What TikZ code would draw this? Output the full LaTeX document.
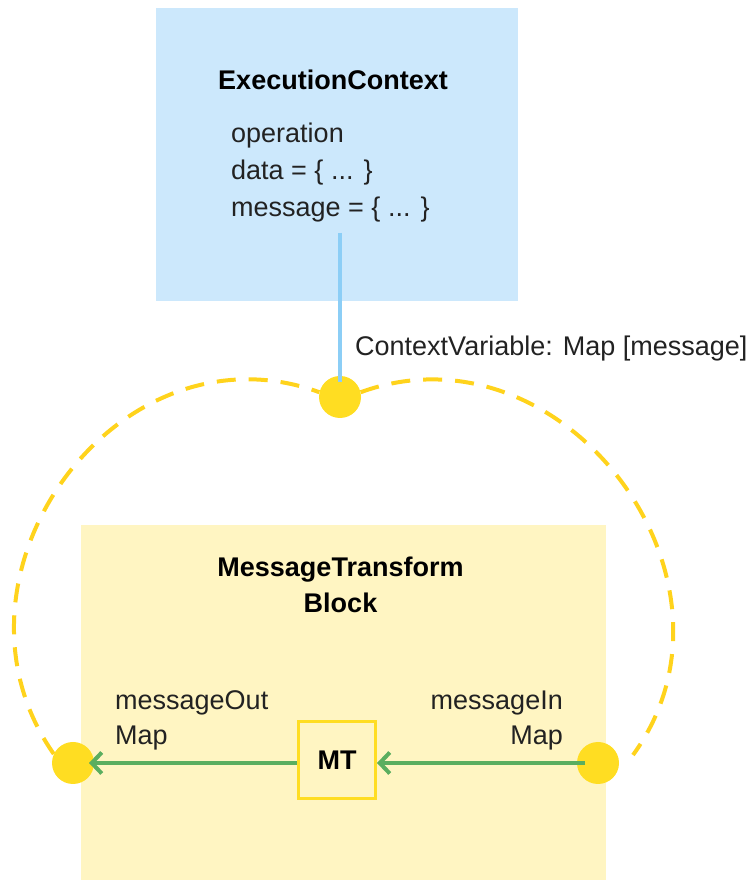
\documentclass[tikz,border=0pt]{standalone}
\usepackage{fontspec}
\setmainfont{Liberation Sans}
\usetikzlibrary{arrows.meta}
\definecolor{ecfill}{HTML}{CCE8FC}
\definecolor{blueln}{HTML}{8CCEF6}
\definecolor{blkfill}{HTML}{FFF5C2}
\definecolor{gold}{HTML}{FFDD22}
\definecolor{dashgold}{HTML}{FFD31C}
\definecolor{grn}{HTML}{5AAE5F}
\definecolor{txtc}{HTML}{222222}
\pgfdeclarelayer{bg}
\pgfsetlayers{bg,main}
\begin{document}
\begin{tikzpicture}[x=1pt,y=1pt,
  lbl/.style={font=\fontsize{27}{36}\selectfont, text=txtc, inner sep=0pt},
  ttl/.style={lbl, font=\fontsize{27}{36}\selectfont\bfseries, text=black},
  panel/.style={inner sep=0pt, anchor=north west},
  dot/.style={circle, fill=gold, minimum size=42pt, inner sep=0pt},
  loopline/.style={draw=dashgold, line width=4pt, dash pattern=on 19pt off 13pt},
  flow/.style={draw=grn, line width=4pt, -{Straight Barb[length=10pt,width=21pt]}},
  link/.style={draw=blueln, line width=3.5pt}]
\useasboundingbox (0,0) rectangle (750,882);
% panels
\node[panel, fill=ecfill, minimum width=362pt, minimum height=293pt] (ec) at (156,874) {};
\node[panel, fill=blkfill, minimum width=525pt, minimum height=355pt] (blk) at (81,357) {};
% texts
\node[ttl, anchor=base] (ectitle) at (333,792) {ExecutionContext};
\node[lbl, anchor=base west] (op) at (231,739) {operation};
\node[lbl, anchor=base west] (dat) at (231,702) {data = \{ ... \}};
\node[lbl, anchor=base west] (msg) at (231,665) {message = \{ ... \}};
\node[lbl, anchor=base west] (cvlabel) at (355,526) {ContextVariable: Map [message]};
\node[ttl, anchor=base] (blktitle1) at (340.5,305) {MessageTransform};
\node[ttl, anchor=base] (blktitle2) at (340.5,269) {Block};
\node[lbl, anchor=base west] (outname) at (115,172) {messageOut};
\node[lbl, anchor=base west] (outtype) at (115,137) {Map};
\node[lbl, anchor=base east] (inname) at (563,172) {messageIn};
\node[lbl, anchor=base east] (intype) at (563,137) {Map};
% MT block
\node[draw=gold, line width=3pt, fill=blkfill, minimum size=77pt, inner sep=0pt,
      font=\fontsize{27}{36}\selectfont\bfseries] (mt) at (337,122) {MT};
% ports
\node[dot] (tdot) at (340,485) {};
\node[dot] (ldot) at (73,119) {};
\node[dot] (rdot) at (598,119) {};
\coordinate (ctx) at (340,649);
\coordinate (rend) at (633,127);
% dashed loop
\begin{pgfonlayer}{bg}
\draw[loopline] (ldot.155) .. controls +(125:216) and +(160:216) .. (tdot.167);
\draw[loopline] (tdot.13) .. controls +(20:216) and +(54:216) .. (rend);
\end{pgfonlayer}
% flows
\draw[flow, shorten <=13pt] (rdot.center) -- (mt.east |- rdot.center);
\draw[flow, shorten >=16pt] (mt.west |- ldot.center) -- (ldot.center);
% context link
\draw[link, shorten >=15pt] (ctx) -- (tdot.center);
\end{tikzpicture}
\end{document}
